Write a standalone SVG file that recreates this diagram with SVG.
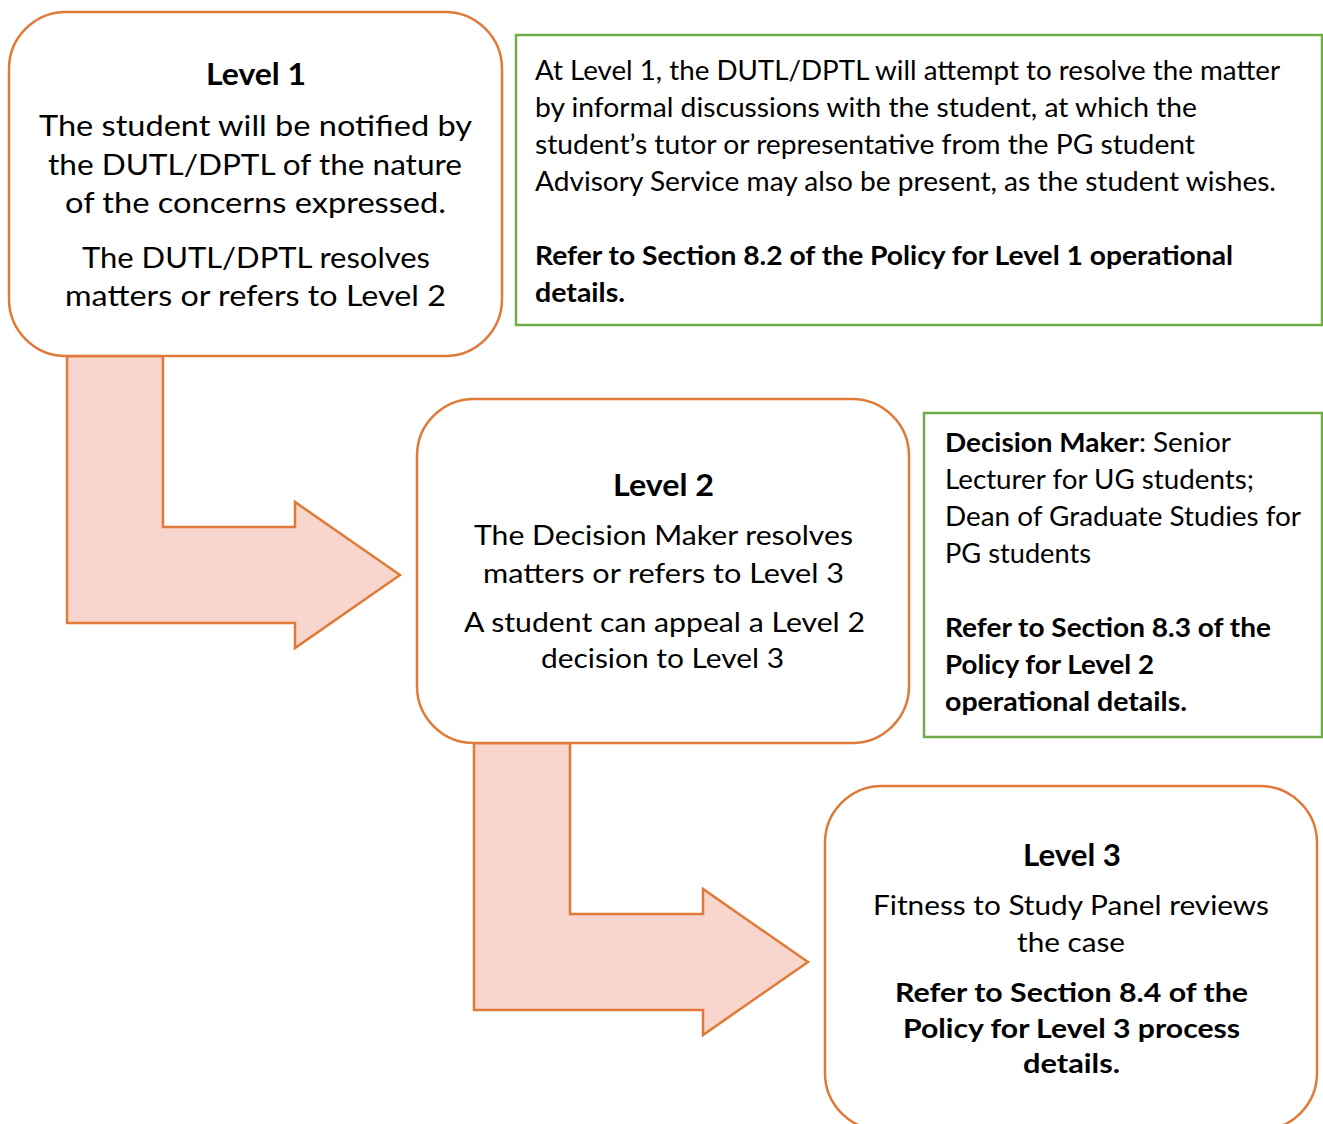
<svg xmlns="http://www.w3.org/2000/svg" width="1323" height="1124" viewBox="0 0 1323 1124">
<style>
text{font-family:Lato,"Open Sans","Liberation Sans",sans-serif;fill:#000}
.b{font-weight:bold}
.h{font-size:30px;font-weight:bold}
.t1{font-size:29px}
.t{font-size:26px}
.lvl{fill:#fff;stroke:#DF7A38;stroke-width:2.5}
.note{fill:#fff;stroke:#70AD47;stroke-width:2.5}
.arrow{fill:#F8D6CD;stroke:#DF7A38;stroke-width:2.5;stroke-linejoin:miter}
</style>
<rect width="1323" height="1124" fill="#fff"/>
<g id="connectors">
<polygon class="arrow" points="67,356 163,356 163,527 295,527 295,502 400,575 295,648 295,623 67,623"/>
<polygon class="arrow" points="474,743 570,743 570,914 703,914 703,889 808,962 703,1035 703,1010 474,1010"/>
</g>
<g id="level1">
<rect class="lvl" x="9" y="12" width="493" height="344" rx="57" ry="57"/>
<text class="h" x="206" y="85" textLength="100" lengthAdjust="spacingAndGlyphs">Level 1</text>
<text class="t1" x="39" y="136" textLength="433" lengthAdjust="spacingAndGlyphs">The student will be notified by</text>
<text class="t1" x="48" y="175" textLength="414" lengthAdjust="spacingAndGlyphs">the DUTL/DPTL of the nature</text>
<text class="t1" x="65" y="213" textLength="381" lengthAdjust="spacingAndGlyphs">of the concerns expressed.</text>
<text class="t1" x="82" y="268" textLength="348" lengthAdjust="spacingAndGlyphs">The DUTL/DPTL resolves</text>
<text class="t1" x="65" y="306" textLength="381" lengthAdjust="spacingAndGlyphs">matters or refers to Level 2</text>
</g>
<g id="note1">
<rect class="note" x="516" y="35" width="806" height="290"/>
<text class="t" x="535" y="80" textLength="745" lengthAdjust="spacingAndGlyphs">At Level 1, the DUTL/DPTL will attempt to resolve the matter</text>
<text class="t" x="535" y="117" textLength="662" lengthAdjust="spacingAndGlyphs">by informal discussions with the student, at which the</text>
<text class="t" x="535" y="154" textLength="660" lengthAdjust="spacingAndGlyphs">student’s tutor or representative from the PG student</text>
<text class="t" x="535" y="191" textLength="741" lengthAdjust="spacingAndGlyphs">Advisory Service may also be present, as the student wishes.</text>
<text class="t b" x="535" y="265" textLength="698" lengthAdjust="spacingAndGlyphs">Refer to Section 8.2 of the Policy for Level 1 operational</text>
<text class="t b" x="535" y="302" textLength="90" lengthAdjust="spacingAndGlyphs">details.</text>
</g>
<g id="level2">
<rect class="lvl" x="417" y="399" width="492" height="344" rx="57" ry="57"/>
<text class="h" x="613" y="496" textLength="101" lengthAdjust="spacingAndGlyphs">Level 2</text>
<text class="t" x="474" y="545" textLength="379" lengthAdjust="spacingAndGlyphs">The Decision Maker resolves</text>
<text class="t" x="483" y="583" textLength="361" lengthAdjust="spacingAndGlyphs">matters or refers to Level 3</text>
<text class="t" x="464" y="632" textLength="401" lengthAdjust="spacingAndGlyphs">A student can appeal a Level 2</text>
<text class="t" x="541" y="668" textLength="243" lengthAdjust="spacingAndGlyphs">decision to Level 3</text>
</g>
<g id="note2">
<rect class="note" x="924" y="413" width="398" height="324"/>
<text class="t" x="945" y="452" textLength="286" lengthAdjust="spacingAndGlyphs"><tspan class="b">Decision Maker</tspan>: Senior</text>
<text class="t" x="945" y="489" textLength="309" lengthAdjust="spacingAndGlyphs">Lecturer for UG students;</text>
<text class="t" x="945" y="526" textLength="356" lengthAdjust="spacingAndGlyphs">Dean of Graduate Studies for</text>
<text class="t" x="945" y="563" textLength="146" lengthAdjust="spacingAndGlyphs">PG students</text>
<text class="t b" x="945" y="637" textLength="326" lengthAdjust="spacingAndGlyphs">Refer to Section 8.3 of the</text>
<text class="t b" x="945" y="674" textLength="209" lengthAdjust="spacingAndGlyphs">Policy for Level 2</text>
<text class="t b" x="945" y="711" textLength="242" lengthAdjust="spacingAndGlyphs">operational details.</text>
</g>
<g id="level3">
<rect class="lvl" x="825" y="786" width="492" height="344" rx="57" ry="57"/>
<text class="h" x="1023" y="866" textLength="98" lengthAdjust="spacingAndGlyphs">Level 3</text>
<text class="t" x="873" y="915" textLength="396" lengthAdjust="spacingAndGlyphs">Fitness to Study Panel reviews</text>
<text class="t" x="1017" y="952" textLength="108" lengthAdjust="spacingAndGlyphs">the case</text>
<text class="t b" x="895" y="1002" textLength="353" lengthAdjust="spacingAndGlyphs">Refer to Section 8.4 of the</text>
<text class="t b" x="903" y="1038" textLength="337" lengthAdjust="spacingAndGlyphs">Policy for Level 3 process</text>
<text class="t b" x="1023" y="1073" textLength="97" lengthAdjust="spacingAndGlyphs">details.</text>
</g>
</svg>
